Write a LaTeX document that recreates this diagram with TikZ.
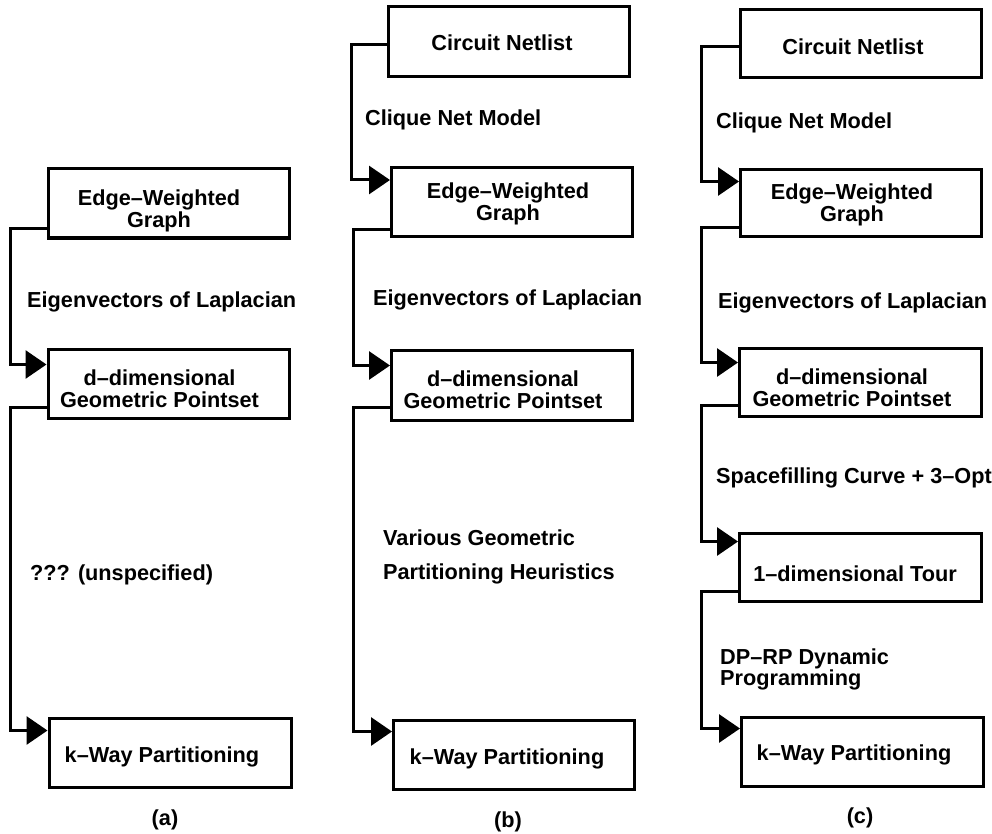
\documentclass[tikz,border=0pt]{standalone}
\usepackage{fontspec}
\setmainfont{Liberation Sans}
\usetikzlibrary{arrows.meta}
\newcommand\lblfont{\fontsize{21.7}{21.8}\selectfont\bfseries}
\tikzset{
  box/.style={draw, line width=3pt, minimum width=241pt, minimum height=69pt, inner sep=0pt},
  btext/.style={font=\lblfont, align=center, inner sep=0pt},
  lab/.style={font=\lblfont, anchor=west, inner sep=0pt, align=left},
  subcap/.style={font=\lblfont, inner sep=0pt},
  conn/.style={line width=3pt, -{Triangle[length=21pt,width=28pt]}},
}
\begin{document}
\begin{tikzpicture}[x=1pt,y=-1pt]
\useasboundingbox (0,0) rectangle (992,834);

% ---------- column (a)
\node[box, label={[btext, xshift=-9.5pt, yshift=-7.5pt]center:Edge–Weighted\\Graph}] (ewgA) at (168.5,203.5) {};
\node[box, label={[btext, xshift=-9pt, yshift=-5pt]center:d–dimensional\\Geometric Pointset}] (ddA) at (168.5,384) {};
\node[box, minimum width=242pt, minimum height=69pt, label={[btext, xshift=-8pt, yshift=-4pt]center:k–Way Partitioning}] (kA) at (170,753) {};
\node[lab] (eigA) at (27,302) {Eigenvectors of Laplacian};
\node[lab] (unsA) at (30,575) {??? (unspecified)};
\node[subcap] (capA) at (165,820) {(a)};
\draw[conn] ([yshift=10.5pt]ewgA.south west) -- ++(-36.5,0) |- ([yshift=-16.5pt]ddA.north west);
\draw[conn] ([yshift=12.5pt]ddA.south west) -- ++(-36.5,0) |- ([yshift=-13.5pt]kA.north west);

% ---------- column (b)
\node[box, minimum height=70pt, label={[btext, xshift=-7pt, yshift=-1.5pt]center:Circuit Netlist}] (cnB) at (509,41.5) {};
\node[box, label={[btext, xshift=-4pt, yshift=-1.5pt]center:Edge–Weighted\\Graph}] (ewgB) at (512,202.5) {};
\node[box, minimum height=70pt, label={[btext, xshift=-9pt, yshift=-4.5pt]center:d–dimensional\\Geometric Pointset}] (ddB) at (512,385.5) {};
\node[box, label={[btext, xshift=-7pt, yshift=-4pt]center:k–Way Partitioning}] (kB) at (514,755) {};
\node[lab] (cliqB) at (365,120) {Clique Net Model};
\node[lab] (eigB) at (373,300) {Eigenvectors of Laplacian};
\node[lab] (varB) at (383,557) {Various Geometric\\[12pt]Partitioning Heuristics};
\node[subcap] (capB) at (508,822) {(b)};
\draw[conn] ([yshift=33.5pt]cnB.south west) -- ++(-35.5,0) |- ([yshift=-13.5pt]ewgB.north west);
\draw[conn] ([yshift=8.5pt]ewgB.south west) -- ++(-36.5,0) |- ([yshift=-16.5pt]ddB.north west);
\draw[conn] ([yshift=14.5pt]ddB.south west) -- ++(-36.5,0) |- ([yshift=-12.5pt]kB.north west);

% ---------- column (c)
\node[box, minimum height=68pt, label={[btext, xshift=-8pt, yshift=-3.5pt]center:Circuit Netlist}] (cnC) at (861,43.5) {};
\node[box, minimum height=67pt, label={[btext, xshift=-9pt, yshift=-2pt]center:Edge–Weighted\\Graph}] (ewgC) at (861,203) {};
\node[box, minimum width=242pt, minimum height=68pt, label={[btext, xshift=-8.5pt, yshift=-5pt]center:d–dimensional\\Geometric Pointset}] (ddC) at (860.5,382.5) {};
\node[box, minimum width=242pt, minimum height=68pt, label={[btext, xshift=-5.5pt, yshift=-6.5pt]center:1–dimensional Tour}] (tC) at (860.5,567.5) {};
\node[box, minimum width=242pt, label={[btext, xshift=-8.5pt, yshift=-3pt]center:k–Way Partitioning}] (kC) at (862.5,752) {};
\node[lab] (cliqC) at (716,123) {Clique Net Model};
\node[lab] (eigC) at (718,303) {Eigenvectors of Laplacian};
\node[lab] (sfcC) at (716,478) {Spacefilling Curve + 3–Opt};
\node[lab] (dpC) at (720,669.5) {DP–RP Dynamic\\Programming};
\node[subcap] (capC) at (860,818) {(c)};
\draw[conn] ([yshift=32.5pt]cnC.south west) -- ++(-37.5,0) |- ([yshift=-13.5pt]ewgC.north west);
\draw[conn] ([yshift=10.5pt]ewgC.south west) -- ++(-37.5,0) |- ([yshift=-15.5pt]ddC.north west);
\draw[conn] ([yshift=12.5pt]ddC.south west) -- ++(-36.5,0) |- ([yshift=-9.5pt]tC.north west);
\draw[conn] ([yshift=11.5pt]tC.south west) -- ++(-36.5,0) |- ([yshift=-12.5pt]kC.north west);
\end{tikzpicture}
\end{document}
